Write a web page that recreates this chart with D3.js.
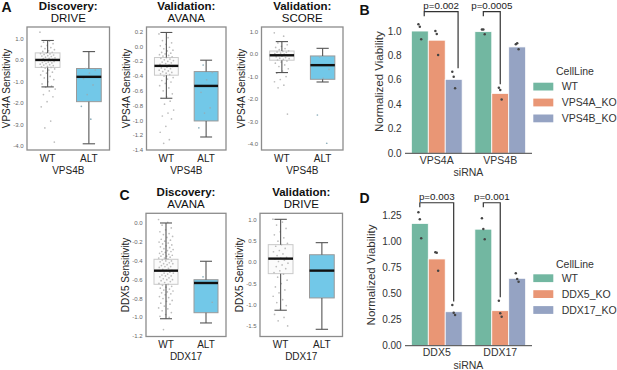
<!DOCTYPE html>
<html><head><meta charset="utf-8">
<script src="https://cdn.jsdelivr.net/npm/d3@7"></script>
<style>body{margin:0;background:#fff}svg{display:block;font-family:Arial,"Liberation Sans",sans-serif}</style>
</head><body><svg id="c" width="617" height="370"></svg>
<script>
// ---------------- DATA ----------------
const boxGroups = ["WT", "ALT"];
const titlesTop = ["Discovery:", "Validation:", "Validation:", "Discovery:", "Validation:"];
const titlesBottom = ["DRIVE", "AVANA", "SCORE", "AVANA", "DRIVE"];
const yTitles = ["VPS4A Sensitivity", "VPS4A Sensitivity", "VPS4A Sensitivity", "DDX5 Sensitivity", "DDX5 Sensitivity"];
const xTitles = ["VPS4B", "VPS4B", "VPS4B", "DDX17", "DDX17"];
// box stats per group: [lowWhisker, q1, median, q3, highWhisker]
const statsA1 = [[-1.24, -0.33, 0.02, 0.35, 0.93], [-3.9, -1.93, -0.77, -0.38, 0.41]];
const statsA2 = [[-0.70, -0.388, -0.262, -0.149, 0.19], [-1.224, -1.007, -0.533, -0.339, -0.185]];
const statsA3 = [[-0.82, -0.27, -0.05, 0.14, 0.56], [-1.24, -1.12, -0.49, -0.08, 0.26]];
const statsC1 = [[-1.015, -0.649, -0.504, -0.383, 0.003], [-1.06, -0.951, -0.635, -0.6, -0.404]];
const statsC2 = [[-1.13, -0.266, 0.088, 0.418, 1.016], [-1.58, -0.84, -0.195, 0.18, 0.465]];
// individual points
const ptsA1WT = [1.32, 0.9, 0.85, 0.78, 0.7, 0.65, 0.6, 0.55, 0.5, 0.45, 0.42, 0.38, 0.35, 0.32, 0.3, 0.28, 0.25, 0.22, 0.2, 0.18, 0.15, 0.12, 0.1, 0.08, 0.05, 0.03, 0.01, -0.01, -0.03, -0.05, -0.08, -0.1, -0.12, -0.15, -0.18, -0.2, -0.22, -0.25, -0.28, -0.3, -0.33, -0.36, -0.4, -0.45, -0.5, -0.55, -0.6, -0.68, -0.75, -0.82, -0.9, -1.0, -1.1, -1.2, -1.25, -1.34, -1.43, -1.6, -1.7, -1.93, -2.17, -2.84, -3.16, -3.82];
const ptsA1ALT = [-0.38, -0.45, -0.6, -0.85, -1.15, -1.6, -2.15, -2.75];
const ptsA2WT = [0.17, 0.12, 0.08, 0.05, 0.03, 0.01, -0.01, -0.03, -0.05, -0.06, -0.08, -0.09, -0.1, -0.11, -0.12, -0.13, -0.14, -0.15, -0.16, -0.17, -0.18, -0.19, -0.2, -0.21, -0.22, -0.23, -0.24, -0.25, -0.26, -0.27, -0.28, -0.29, -0.3, -0.31, -0.32, -0.33, -0.34, -0.35, -0.36, -0.37, -0.38, -0.4, -0.42, -0.44, -0.46, -0.48, -0.5, -0.53, -0.56, -0.6, -0.64, -0.68, -0.7, -0.74, -0.78, -0.86, -0.9, -0.94, -0.98, -1.08, -1.16, -1.26, -1.31];
const ptsA2ALT = [-0.25, -0.35, -0.45, -0.62, -0.83, -0.9, -1.1];
const ptsA3WT = [0.95, 0.8, 0.5, 0.42, 0.35, 0.3, 0.25, 0.2, 0.15, 0.12, 0.1, 0.08, 0.05, 0.02, 0.0, -0.03, -0.06, -0.09, -0.12, -0.15, -0.18, -0.2, -0.23, -0.26, -0.3, -0.35, -0.4, -0.48, -0.55, -0.65, -0.75, -0.85, -1.0, -1.13, -1.23, -1.38, -1.5, -2.67];
const ptsA3ALT = [-0.12, -0.68, -1.08, -2.71, -3.97];
const ptsC1WT = [0.04, 0.01, -0.02, -0.05, -0.07, -0.09, -0.11, -0.12, -0.14, -0.15, -0.17, -0.18, -0.19, -0.2, -0.21, -0.22, -0.23, -0.24, -0.25, -0.26, -0.27, -0.28, -0.29, -0.3, -0.3, -0.31, -0.32, -0.33, -0.33, -0.34, -0.35, -0.35, -0.36, -0.37, -0.37, -0.38, -0.39, -0.4, -0.4, -0.41, -0.42, -0.43, -0.43, -0.44, -0.45, -0.46, -0.46, -0.47, -0.48, -0.49, -0.5, -0.5, -0.51, -0.52, -0.53, -0.53, -0.54, -0.55, -0.56, -0.56, -0.57, -0.58, -0.59, -0.6, -0.6, -0.61, -0.62, -0.63, -0.64, -0.65, -0.66, -0.67, -0.68, -0.69, -0.7, -0.71, -0.72, -0.73, -0.74, -0.75, -0.76, -0.78, -0.79, -0.8, -0.82, -0.83, -0.85, -0.86, -0.88, -0.9, -0.91, -0.93, -0.95, -0.97, -0.99, -1.0, -1.13];
const ptsC1ALT = [-0.57, -0.84];
const ptsC2WT = [1.02, 0.95, 0.88, 0.8, 0.72, 0.65, 0.58, 0.5, 0.45, 0.42, 0.38, 0.33, 0.28, 0.25, 0.2, 0.16, 0.12, 0.1, 0.08, 0.05, 0.02, -0.02, -0.06, -0.1, -0.15, -0.2, -0.24, -0.28, -0.35, -0.42, -0.5, -0.58, -0.65, -0.72, -0.8, -0.88, -0.95, -1.02, -1.1, -1.23, -1.3, -1.38, -1.5];
const ptsC2ALT = [];
// tick values
const ticksA1 = [1, 0, -1, -2, -3, -4];
const ticksA2 = [0.2, 0, -0.2, -0.4, -0.6, -0.8, -1.0, -1.2, -1.4];
const ticksA3 = [1, 0, -1, -2, -3, -4];
const ticksC1 = [0, -0.2, -0.4, -0.6, -0.8, -1.0, -1.2];
const ticksC2 = [1, 0.5, 0, -0.5, -1, -1.5];

// bar panels
const siRNA_B = ["VPS4A", "VPS4B"];
const cellLines_B = ["WT", "VPS4A_KO", "VPS4B_KO"];
const bars_B = [[1.0, 0.925, 0.605], [0.995, 0.49, 0.87]];
const dots_B = [[[1.055, 1.035, 0.932], [1.0, 0.975, 0.804], [0.667, 0.626, 0.531]],
                [[1.013, 1.013, 0.973], [0.536, 0.518, 0.44], [0.891, 0.9, 0.85]]];
const pvals_B = ["p=0.002", "p=0.0005"];
const siRNA_D = ["DDX5", "DDX17"];
const cellLines_D = ["WT", "DDX5_KO", "DDX17_KO"];
const bars_D = [[1.17, 0.83, 0.325], [1.115, 0.335, 0.645]];
const dots_D = [[[1.277, 1.21, 1.028], [0.894, 0.89, 0.718], [0.39, 0.316, 0.294]],
                [[1.219, 1.117, 1.018], [0.431, 0.31, 0.278], [0.693, 0.638, 0.612]]];
const pvals_D = ["p=0.003", "p=0.001"];
const ticks_B = [0, 0.2, 0.4, 0.6, 0.8, 1.0];
const ticks_D = [0, 0.25, 0.5, 0.75, 1.0, 1.25];

// ---------------- DRAW ----------------
const svg = d3.select("#c");
const fmt1 = v => v.toFixed(1);
const fmt2 = v => v.toFixed(2);

const boxPanels = [
  {stats: statsA1, pts: [ptsA1WT, ptsA1ALT], ticks: ticksA1, x0: 27, x1: 109.5, y0: 27, y1: 150, dom: [-4.19, 1.56]},
  {stats: statsA2, pts: [ptsA2WT, ptsA2ALT], ticks: ticksA2, x0: 146.5, x1: 226, y0: 27, y1: 150, dom: [-1.40, 0.264]},
  {stats: statsA3, pts: [ptsA3WT, ptsA3ALT], ticks: ticksA3, x0: 261.5, x1: 343, y0: 27, y1: 150, dom: [-4.27, 1.21]},
  {stats: statsC1, pts: [ptsC1WT, ptsC1ALT], ticks: ticksC1, x0: 146, x1: 226, y0: 213.3, y1: 336.5, dom: [-1.204, 0.106]},
  {stats: statsC2, pts: [ptsC2WT, ptsC2ALT], ticks: ticksC2, x0: 260, x1: 342.5, y0: 213.3, y1: 336.5, dom: [-1.75, 1.158]}
];
const boxFill = ["#fbfbfb", "#72c8e8"];
const boxStroke = ["#c9c9c9", "#9a9a9a"];

boxPanels.forEach((p, k) => {
  const g = svg.append("g");
  const x = d3.scaleBand().domain(boxGroups).range([p.x0, p.x1]).paddingInner(0.4).paddingOuter(0.2);
  const y = d3.scaleLinear().domain(p.dom).range([p.y1, p.y0]);
  const bw = x.bandwidth();
  // frame
  g.append("rect").attr("x", p.x0).attr("y", p.y0).attr("width", p.x1 - p.x0).attr("height", p.y1 - p.y0)
    .attr("fill", "#fff").attr("stroke", "#8c8c8c").attr("stroke-width", 1.3);
  // tick labels
  g.selectAll(".tk").data(p.ticks).enter().append("text")
    .attr("x", p.x0 - 3.5).attr("y", d => y(d)).attr("dy", "0.35em")
    .attr("text-anchor", "end").attr("font-size", 6).attr("fill", "#666").text(fmt1);
  boxGroups.forEach((grp, gi) => {
    const s = p.stats[gi];
    const cx = x(grp) + bw / 2;
    g.append("rect").attr("x", x(grp)).attr("y", y(s[3])).attr("width", bw).attr("height", y(s[1]) - y(s[3]))
      .attr("fill", boxFill[gi]).attr("stroke", boxStroke[gi]).attr("stroke-width", 1);
    g.selectAll(".pt" + gi).data(p.pts[gi]).enter().append("circle")
      .attr("cx", (d, i) => cx + (((i * 0.6180339887 + gi * 0.3) % 1) - 0.5) * 0.62 * bw)
      .attr("cy", d => y(d)).attr("r", 0.85).attr("fill", gi === 0 ? "#bdbdbd" : "#8fb0bd");
    const wl = [[s[3], s[4]], [s[1], s[0]]];
    wl.forEach(w => {
      g.append("line").attr("x1", cx).attr("x2", cx).attr("y1", y(w[0])).attr("y2", y(w[1]))
        .attr("stroke", "#555").attr("stroke-width", 1.1);
      g.append("line").attr("x1", cx - bw * 0.25).attr("x2", cx + bw * 0.25).attr("y1", y(w[1])).attr("y2", y(w[1]))
        .attr("stroke", "#555").attr("stroke-width", 1.1);
    });
    g.append("line").attr("x1", x(grp)).attr("x2", x(grp) + bw).attr("y1", y(s[2])).attr("y2", y(s[2]))
      .attr("stroke", "#111").attr("stroke-width", 2.4);
    g.append("text").attr("x", cx).attr("y", p.y1 + 11.7).attr("text-anchor", "middle")
      .attr("font-size", 10).attr("fill", "#222").text(grp);
  });
  const mx = (p.x0 + p.x1) / 2;
  g.append("text").attr("x", mx).attr("y", p.y1 + 23.5).attr("text-anchor", "middle")
    .attr("font-size", 10).attr("fill", "#222").text(xTitles[k]);
  g.append("text").attr("transform", `translate(${p.x0 - 17},${(p.y0 + p.y1) / 2}) rotate(-90)`)
    .attr("text-anchor", "middle").attr("font-size", 10).attr("fill", "#222").text(yTitles[k]);
  g.append("text").attr("x", mx).attr("y", p.y0 - 17.5).attr("text-anchor", "middle")
    .attr("font-size", 11.5).attr("font-weight", "bold").attr("fill", "#111").text(titlesTop[k]);
  g.append("text").attr("x", mx).attr("y", p.y0 - 5.2).attr("text-anchor", "middle")
    .attr("font-size", 11.5).attr("fill", "#111").text(titlesBottom[k]);
});

// bar panels
const barColors = ["#72b7a1", "#e99675", "#95a3c3"];
const barPanels = [
  {groups: siRNA_B, lines: cellLines_B, bars: bars_B, dots: dots_B, pv: pvals_B, ticks: ticks_B, fmt: fmt1,
   x0: 405, x1: 532, yb: 153.3, yt: 10, ymax: 1.172, brTop: 1.158, brAnchor: [0.76, 0.5], brTo: [2, 1],
   ylabX: 383, legTitleY: 75, legY: 82.7},
  {groups: siRNA_D, lines: cellLines_D, bars: bars_D, dots: dots_D, pv: pvals_D, ticks: ticks_D, fmt: fmt2,
   x0: 405, x1: 532, yb: 345.7, yt: 204.3, ymax: 1.353, brTop: 1.368, brAnchor: [0.5, 0.5], brTo: [2, 1],
   ylabX: 375, legTitleY: 268, legY: 274.3}
];
barPanels.forEach(p => {
  const g = svg.append("g");
  const x0 = d3.scaleBand().domain(p.groups).range([p.x0, p.x1]);
  const x1 = d3.scaleBand().domain(p.lines).range([0.1 * x0.bandwidth(), 0.9 * x0.bandwidth()]);
  const y = d3.scaleLinear().domain([0, p.ymax]).range([p.yb, p.yt]);
  p.groups.forEach((grp, gi) => {
    p.lines.forEach((ln, li) => {
      const bx = x0(grp) + x1(ln);
      g.append("rect").attr("x", bx).attr("y", y(p.bars[gi][li])).attr("width", x1.bandwidth())
        .attr("height", y(0) - y(p.bars[gi][li])).attr("fill", barColors[li])
        .attr("stroke", "#fff").attr("stroke-width", 0.8);
      g.selectAll(".d" + gi + li).data(p.dots[gi][li]).enter().append("circle")
        .attr("cx", (d, i) => bx + x1.bandwidth() / 2 + (i - 1) * 1.4)
        .attr("cy", d => y(d)).attr("r", 1.25).attr("fill", "#444");
    });
    g.append("text").attr("x", x0(grp) + x0.bandwidth() / 2).attr("y", p.yb + 10.3).attr("text-anchor", "middle")
      .attr("font-size", 10.5).attr("fill", "#333").text(grp);
    // bracket
    const xa = x0(grp) + x1(p.lines[0]) + p.brAnchor[gi] * x1.bandwidth();
    const tl = p.lines[p.brTo[gi]];
    const xb = x0(grp) + x1(tl) + p.brAnchor[gi] * x1.bandwidth();
    const ytop = y(p.brTop);
    const yEnd = y(d3.max(p.dots[gi][p.brTo[gi]])) - 3.5;
    g.append("path").attr("d", `M${xa},${ytop + 4.5}V${ytop}H${xb}V${yEnd}`)
      .attr("fill", "none").attr("stroke", "#333").attr("stroke-width", 1.2);
    g.append("text").attr("x", (xa + xb) / 2).attr("y", ytop - 3).attr("text-anchor", "middle")
      .attr("font-size", 9.8).attr("fill", "#222").text(p.pv[gi]);
  });
  g.append("line").attr("x1", p.x0).attr("x2", p.x1).attr("y1", p.yb).attr("y2", p.yb)
    .attr("stroke", "#444").attr("stroke-width", 1);
  g.selectAll(".yt").data(p.ticks).enter().append("text")
    .attr("x", p.x0 - 3.3).attr("y", d => y(d)).attr("dy", "0.35em").attr("text-anchor", "end")
    .attr("font-size", 10).attr("fill", "#333").text(p.fmt);
  g.append("text").attr("x", (p.x0 + p.x1) / 2).attr("y", p.yb + 23).attr("text-anchor", "middle")
    .attr("font-size", 10.5).attr("fill", "#333").text("siRNA");
  g.append("text").attr("transform", `translate(${p.ylabX},${(p.yb + p.yt) / 2}) rotate(-90)`)
    .attr("text-anchor", "middle").attr("font-size", 11.5).attr("fill", "#333").text("Normalized Viability");
  // legend
  g.append("text").attr("x", 575).attr("y", p.legTitleY).attr("text-anchor", "middle")
    .attr("font-size", 10.5).attr("fill", "#333").text("CellLine");
  p.lines.forEach((ln, li) => {
    const ly = p.legY + li * 15.9;
    g.append("rect").attr("x", 533.3).attr("y", ly).attr("width", 20).attr("height", 7.8).attr("fill", barColors[li]);
    g.append("text").attr("x", 561.7).attr("y", ly + 3.9).attr("dy", "0.35em")
      .attr("font-size", 10.5).attr("fill", "#333").text(ln);
  });
});

// panel letters
const letters = [["A", 1.5, 11.8], ["B", 359.5, 15], ["C", 119.5, 200], ["D", 359.5, 202.7]];
svg.selectAll(".lt").data(letters).enter().append("text")
  .attr("x", d => d[1]).attr("y", d => d[2]).attr("font-size", 14).attr("font-weight", "bold")
  .attr("fill", "#111").text(d => d[0]);
</script></body></html>
